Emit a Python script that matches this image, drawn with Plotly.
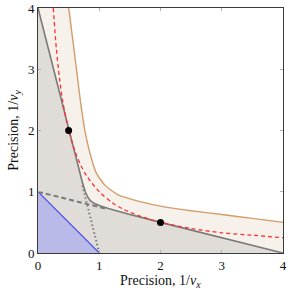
import plotly.graph_objects as go

# ---- data ----
ticks = [0, 1, 2, 3, 4]
tick_labels = ["0", "1", "2", "3", "4"]

# red dashed bound curve
red_x = [0.25, 0.3, 0.35, 0.4, 0.5, 0.6, 0.7, 0.8, 1.0, 1.2, 1.4, 1.7, 2.0, 2.5, 3.0, 3.5, 4.0]
red_y = [4.0, 3.33, 2.86, 2.5, 2.0, 1.67, 1.43, 1.25, 1.0, 0.83, 0.71, 0.59, 0.5, 0.4, 0.33, 0.29, 0.25]

# orange outer curve
orange_x = [0.5, 0.565, 0.628, 0.69, 0.765, 0.83, 0.9, 0.955, 1.02, 1.1, 1.2, 1.3, 1.45, 1.7, 2.0, 2.5, 3.0, 3.5, 4.0]
orange_y = [4.0, 3.5, 3.0, 2.5, 2.0, 1.7, 1.45, 1.3, 1.2, 1.1, 1.02, 0.955, 0.9, 0.83, 0.765, 0.69, 0.628, 0.565, 0.5]

# gray solid boundary (two tangent lines with rounded corner)
gray_x = [0, 0.5, 0.553, 0.63, 0.682, 0.725, 0.757, 0.772, 0.811, 0.855, 0.915, 1.0, 1.05, 1.15, 1.3, 1.5, 1.8, 2.0, 4.0]
gray_y = [4, 2, 1.8, 1.5, 1.3, 1.15, 1.05, 1.0, 0.915, 0.855, 0.811, 0.772, 0.757, 0.725, 0.682, 0.63, 0.553, 0.5, 0]

# dashed / dotted tangent-line continuations
dash_x = [0, 1.1]
dash_y = [1, 0.725]
dot_x = [0.725, 1.0]
dot_y = [1.1, 0]

# blue triangle
blue_x = [0, 1]
blue_y = [1, 0]

# tangent points
pts_x = [0.5, 2]
pts_y = [2, 0.5]

x_title = "Precision, 1/<i>v<sub>x</sub></i>"
y_title = "Precision, 1/<i>v<sub>y</sub></i>"

BEIGE = "#f7f1eb"
GRAYFILL = "#e0dcd8"
BLUEFILL = "#babae9"
BLUE = "#4d4df0"
GRAYLINE = "#7a7a7a"
RED = "#ff3030"
ORANGE = "#d39d6c"
FONT = "Liberation Serif, DejaVu Serif, Times New Roman, serif"

fig = go.Figure()

fig.add_trace(go.Scatter(
    x=[0, 0] + orange_x + [orange_x[-1], 0],
    y=[0, orange_y[0]] + orange_y + [0, 0],
    fill="toself", fillcolor=BEIGE, mode="lines", line=dict(width=0, shape="spline", smoothing=0.6),
    hoverinfo="skip", showlegend=False))

fig.add_trace(go.Scatter(
    x=gray_x + [gray_x[-1], 0, gray_x[0]],
    y=gray_y + [0, 0, gray_y[0]],
    fill="toself", fillcolor=GRAYFILL, mode="lines", line=dict(width=0),
    hoverinfo="skip", showlegend=False))

fig.add_trace(go.Scatter(
    x=[0] + blue_x + [0], y=[0] + blue_y + [0],
    fill="toself", fillcolor=BLUEFILL, mode="lines", line=dict(width=0),
    hoverinfo="skip", showlegend=False))

fig.add_trace(go.Scatter(x=blue_x, y=blue_y, mode="lines",
                         line=dict(color=BLUE, width=1.2), showlegend=False))

fig.add_trace(go.Scatter(x=dash_x, y=dash_y, mode="lines",
                         line=dict(color=GRAYLINE, width=2, dash="5px,3px"), showlegend=False))
fig.add_trace(go.Scatter(x=dot_x, y=dot_y, mode="lines",
                         line=dict(color=GRAYLINE, width=2, dash="1.5px,2.5px"), showlegend=False))

fig.add_trace(go.Scatter(x=gray_x, y=gray_y, mode="lines",
                         line=dict(color=GRAYLINE, width=1.6), showlegend=False))

fig.add_trace(go.Scatter(x=red_x, y=red_y, mode="lines",
                         line=dict(color=RED, width=1.3, dash="4px,3px", shape="spline", smoothing=0.8),
                         showlegend=False))

fig.add_trace(go.Scatter(x=orange_x, y=orange_y, mode="lines",
                         line=dict(color=ORANGE, width=1.4, shape="spline", smoothing=0.6),
                         showlegend=False))

fig.add_trace(go.Scatter(x=pts_x, y=pts_y, mode="markers",
                         marker=dict(color="black", size=7), showlegend=False))

axis_common = dict(
    range=[0, 4], tickvals=ticks, ticktext=tick_labels,
    ticks="inside", ticklen=3, tickwidth=1, tickcolor="#b0b0b0",
    showline=True, linecolor="#3a3a3a", linewidth=1, mirror="ticks",
    showgrid=False, zeroline=False, automargin=False,
    tickfont=dict(family=FONT, size=13, color="#111"),
)

fig.update_layout(
    width=290, height=293,
    margin=dict(l=38, r=7, t=8, b=40),
    paper_bgcolor="white", plot_bgcolor="white",
    xaxis=dict(**axis_common),
    yaxis=dict(**axis_common),
    annotations=[
        dict(text=x_title, xref="paper", yref="paper", x=0.5, y=-0.115,
             xanchor="center", yanchor="middle", showarrow=False,
             font=dict(family=FONT, size=14, color="#111")),
        dict(text=y_title, xref="paper", yref="paper", x=-0.097, y=0.5,
             xanchor="center", yanchor="middle", showarrow=False, textangle=-90,
             font=dict(family=FONT, size=14, color="#111")),
    ],
)

fig.write_html("out.html", config={"displayModeBar": False},
               post_script="document.body.style.margin='0';document.body.style.padding='0';")
